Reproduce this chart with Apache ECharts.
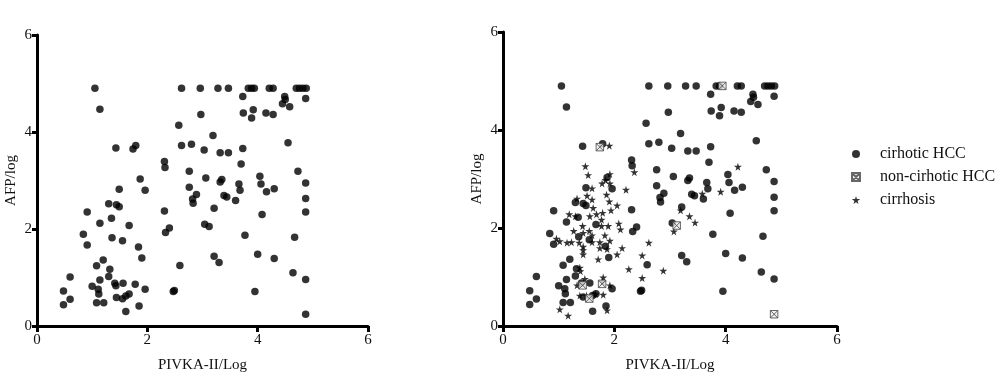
<!DOCTYPE html>
<html>
<head>
<meta charset="utf-8">
<script src="https://cdn.jsdelivr.net/npm/echarts@6/dist/echarts.min.js"></script>
<style>
  html, body { margin: 0; padding: 0; background: #fff; }
  #chart { width: 1000px; height: 378px; }
</style>
</head>
<body>
<div id="chart"></div>
<script>
// [PIVKA-II log, AFP log]
const cirrhoticHcc = [
  [1.05, 4.90], [2.62, 4.90], [2.96, 4.90], [3.28, 4.90], [3.47, 4.90], [3.83, 4.90], [3.89, 4.90],
  [4.21, 4.90], [4.28, 4.90], [4.70, 4.90], [4.76, 4.90], [4.82, 4.90], [4.88, 4.90],
  [1.14, 4.47], [1.43, 3.67], [1.79, 3.72], [1.49, 2.82], [1.87, 3.03], [1.96, 2.80], [2.31, 3.39],
  [2.32, 3.27], [2.57, 4.14], [2.62, 3.72], [2.80, 3.75], [2.76, 3.19], [2.76, 2.86], [2.89, 2.71],
  [2.97, 4.36], [3.73, 4.73], [4.49, 4.73], [4.50, 4.67], [4.45, 4.58], [4.58, 4.52], [4.87, 4.69],
  [3.74, 4.39], [3.92, 4.46], [3.89, 4.29], [4.15, 4.39], [4.28, 4.36],
  [3.19, 3.93], [3.03, 3.63], [3.32, 3.57], [3.47, 3.57], [3.73, 3.66], [4.55, 3.78],
  [3.06, 3.05], [3.32, 2.97], [3.35, 3.02], [3.70, 3.34], [4.04, 3.09], [4.06, 2.93], [3.66, 2.93],
  [3.68, 2.80], [4.16, 2.77], [4.30, 2.83], [4.73, 3.19], [4.87, 2.95],
  [2.82, 2.62], [2.83, 2.53], [3.39, 2.69], [3.44, 2.66], [3.60, 2.59], [4.87, 2.63], [4.87, 2.35],
  [3.21, 2.43], [4.08, 2.30], [2.31, 2.37], [2.40, 2.02], [2.33, 1.93], [3.04, 2.10], [3.77, 1.87],
  [4.67, 1.83], [3.21, 1.44], [3.30, 1.31], [4.00, 1.48], [4.30, 1.39], [2.59, 1.25], [4.64, 1.10],
  [4.87, 0.96], [2.47, 0.71], [2.49, 0.73], [3.95, 0.71],
  [0.91, 2.35], [1.30, 2.52], [1.44, 2.50], [1.49, 2.46], [1.35, 2.22], [1.14, 2.12], [1.67, 2.07],
  [0.84, 1.89], [1.36, 1.82], [1.55, 1.76], [0.91, 1.67], [1.84, 1.63], [1.90, 1.40], [1.20, 1.36],
  [1.08, 1.24], [1.32, 1.17], [0.60, 1.01], [1.14, 0.95], [1.30, 1.02], [1.00, 0.82], [1.11, 0.76],
  [1.12, 0.66], [1.41, 0.88], [1.56, 0.88], [1.96, 0.76], [0.48, 0.72], [0.60, 0.55], [1.44, 0.59],
  [1.61, 0.62], [1.67, 0.66], [0.48, 0.44], [1.08, 0.48], [1.21, 0.48], [1.85, 0.41], [1.61, 0.30]
]
const nonCirrhoticHcc = [
  [1.74, 3.65], [3.94, 4.90], [1.43, 0.83], [1.55, 0.56], [1.78, 0.86], [3.12, 2.05], [4.87, 0.24]
]
const cirrhosis = [
  [1.91, 3.68], [1.48, 3.26], [1.53, 3.08], [1.92, 3.10], [1.84, 2.98], [1.78, 2.91], [1.92, 2.91],
  [2.36, 3.14], [2.21, 2.78], [1.60, 2.81], [1.51, 2.66], [1.60, 2.58], [1.86, 2.68], [1.91, 2.54],
  [1.33, 2.60], [2.05, 2.46], [1.62, 2.41], [1.79, 2.31], [1.94, 2.36], [1.19, 2.28], [1.30, 2.24],
  [1.56, 2.24], [1.68, 2.28], [1.77, 2.17], [2.08, 2.09], [2.11, 1.97], [1.89, 2.04], [1.77, 2.04],
  [1.27, 1.94], [1.43, 2.04], [1.44, 1.90], [1.55, 1.94], [1.60, 1.85], [1.83, 1.85], [0.96, 1.78],
  [1.02, 1.73], [1.15, 1.70], [1.23, 1.71], [1.37, 1.70], [1.44, 1.62], [1.60, 1.71], [1.74, 1.71],
  [1.92, 1.74], [1.74, 1.59], [1.87, 1.57], [1.44, 1.55], [2.14, 1.59], [2.05, 1.46], [1.44, 1.46],
  [1.71, 1.36], [2.62, 1.70], [2.50, 1.44], [2.26, 1.16], [1.38, 1.19], [1.39, 1.12], [1.47, 0.96],
  [1.33, 0.83], [1.80, 0.99], [1.79, 0.90], [1.92, 0.83], [2.50, 0.98], [1.38, 0.62], [1.50, 0.62],
  [1.66, 0.65], [1.80, 0.64], [1.87, 0.32], [1.02, 0.34], [1.17, 0.21], [4.22, 3.25], [3.91, 2.74],
  [3.58, 2.70], [3.19, 2.36], [3.35, 2.24], [3.45, 2.11], [3.07, 1.93], [2.88, 1.13]
]
const seriesNames = ['cirhotic HCC', 'non-cirhotic HCC', 'cirrhosis']
const xName = 'PIVKA-II/Log'
const yName = 'AFP/log'

const FONT = 'Liberation Serif'
const STAR = 'path://M50,0 L61,35 L98,35 L68,57 L79,91 L50,70 L21,91 L32,57 L2,35 L39,35 Z'
const BOXX = 'path://M0,0 L10,0 L10,10 L0,10 Z M0,0 L10,10 M10,0 L0,10'

const chart = echarts.init(document.getElementById('chart'), null, { renderer: 'canvas' })

function xAxisFor(gridIndex) {
  return {
    gridIndex, type: 'value', min: 0, max: 6, interval: 2,
    name: xName, nameLocation: 'middle', nameGap: 32,
    nameTextStyle: { color: '#111', fontFamily: FONT, fontSize: 15 },
    axisLine: { show: true, onZero: false, lineStyle: { color: '#000', width: 3 } },
    axisTick: { show: true, length: 6, lineStyle: { color: '#000', width: 3 } },
    axisLabel: { color: '#111', fontFamily: FONT, fontSize: 15, margin: 7 },
    splitLine: { show: false },
  }
}
function yAxisFor(gridIndex) {
  return {
    gridIndex, type: 'value', min: 0, max: 6, interval: 2,
    name: yName, nameLocation: 'middle', nameGap: 18, nameRotate: 90,
    nameTextStyle: { color: '#111', fontFamily: FONT, fontSize: 15 },
    axisLine: { show: true, onZero: false, lineStyle: { color: '#000', width: 3 } },
    axisTick: { show: true, length: 5, lineStyle: { color: '#000', width: 3 } },
    axisLabel: { color: '#111', fontFamily: FONT, fontSize: 15, margin: 5 },
    splitLine: { show: false },
  }
}

chart.setOption({
  animation: false,
  backgroundColor: '#fff',
  grid: [
    { left: 37, top: 35, width: 331, height: 294 },
    { left: 503, top: 32, width: 334, height: 295 },
  ],
  xAxis: [xAxisFor(0), xAxisFor(1)],
  yAxis: [yAxisFor(0), yAxisFor(1)],
  legend: {
    orient: 'vertical', left: 846, top: 141, itemGap: 7,
    itemWidth: 30, itemHeight: 8,
    textStyle: { color: '#111', fontFamily: FONT, fontSize: 16, padding: [0, 0, 0, 4] },
    data: seriesNames,
  },
  series: [
    {
      type: 'scatter', xAxisIndex: 0, yAxisIndex: 0,
      data: cirrhoticHcc.concat(nonCirrhoticHcc),
      symbol: 'circle', symbolSize: 7.5,
      itemStyle: { color: '#000' },
    },
    {
      name: seriesNames[0], type: 'scatter', xAxisIndex: 1, yAxisIndex: 1,
      data: cirrhoticHcc, symbol: 'circle', symbolSize: 7.5,
      itemStyle: { color: '#000' },
    },
    {
      name: seriesNames[2], type: 'scatter', xAxisIndex: 1, yAxisIndex: 1,
      data: cirrhosis, symbol: STAR, symbolSize: 8,
      itemStyle: { color: '#000' },
    },
    {
      name: seriesNames[1], type: 'scatter', xAxisIndex: 1, yAxisIndex: 1, z: 5,
      data: nonCirrhoticHcc, symbol: BOXX, symbolSize: 7.5,
      itemStyle: { color: '#eee', borderColor: '#444', borderWidth: 1 },
    },
  ],
})
</script>
</body>
</html>
